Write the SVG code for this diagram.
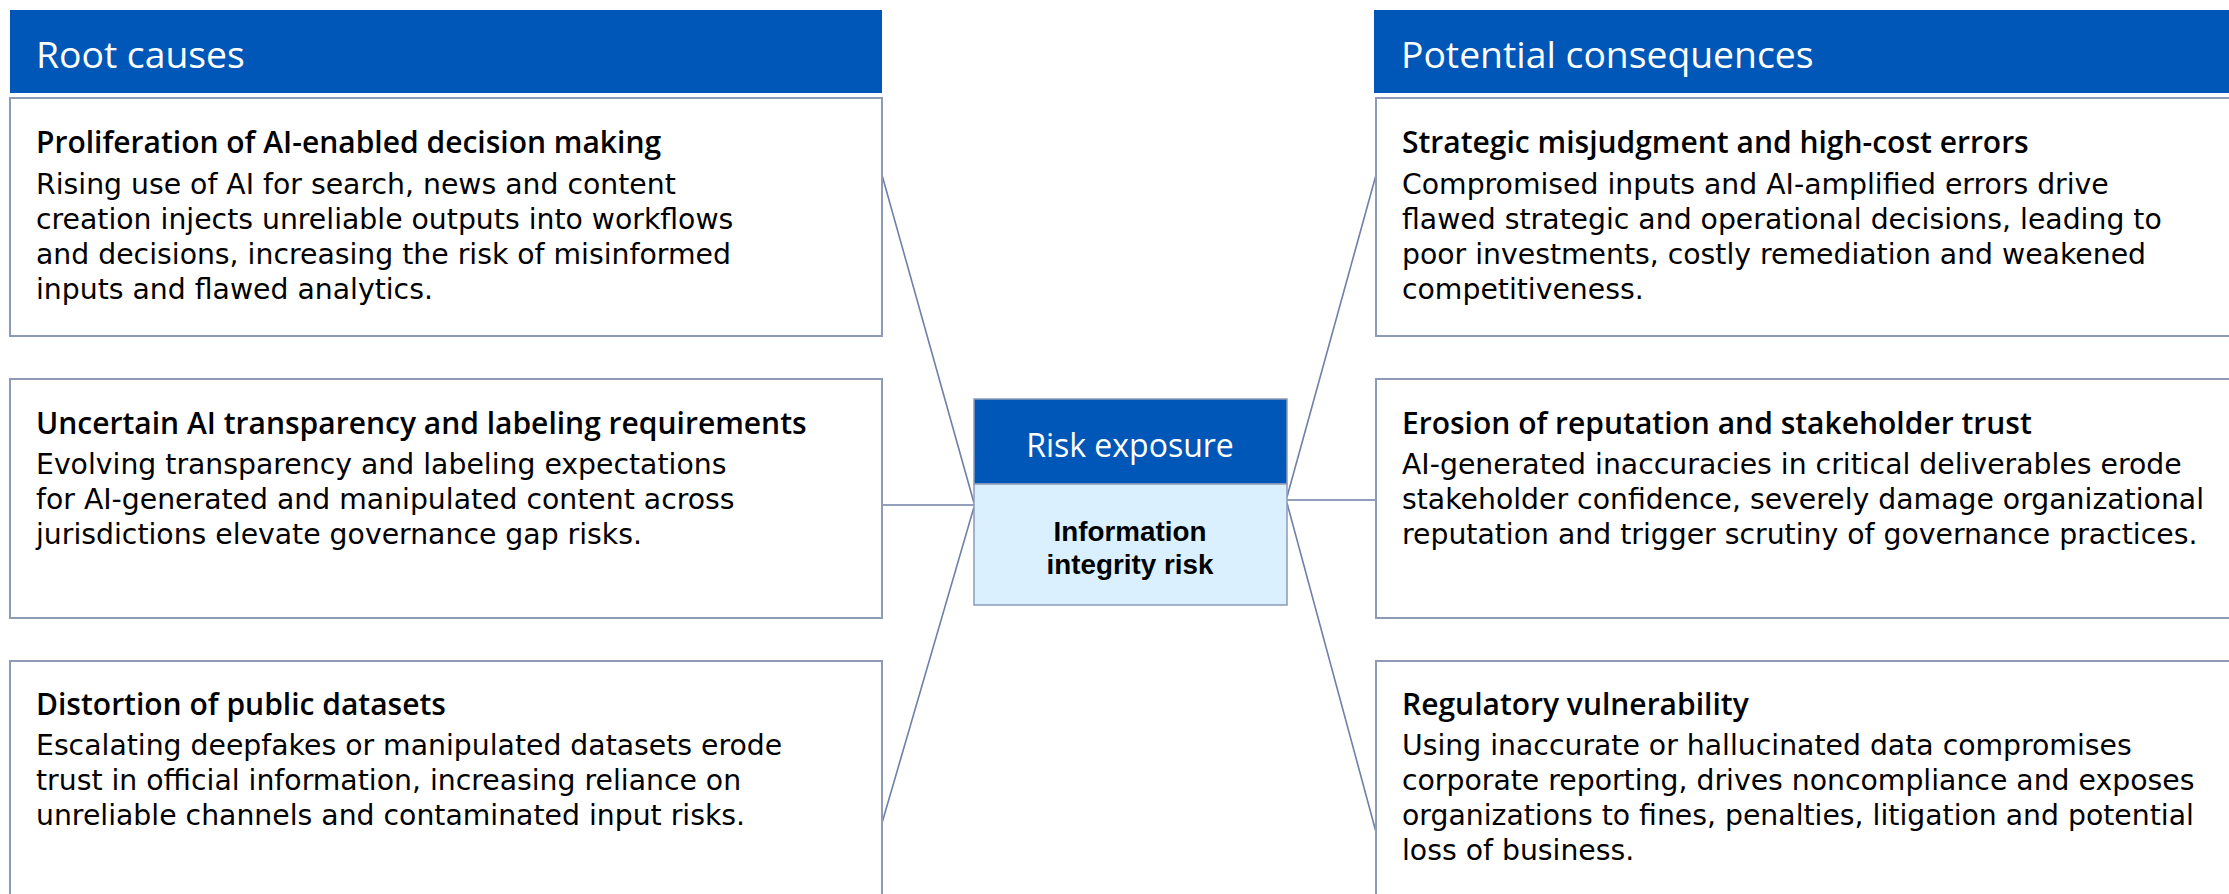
<svg xmlns="http://www.w3.org/2000/svg" width="2229" height="894" viewBox="0 0 2229 894">
<style>
.hdr{fill:#0057B7}
.box{fill:#FFFFFF;stroke:#8D9BB6;stroke-width:2}
.hdrt{font-family:"Open Sans","Liberation Sans",sans-serif;font-size:37.3px;font-weight:500;fill:#FFFFFF}
.ttl{font-family:"Open Sans","Liberation Sans",sans-serif;font-size:30px;font-weight:600;fill:#000000}
.bd{font-family:"DejaVu Sans","Liberation Sans",sans-serif;font-size:28.3px;fill:#000000}
.conn{stroke:#6F7FA6;stroke-width:1.6;fill:none}
.ctr1{font-family:"Open Sans","Liberation Sans",sans-serif;font-size:32px;fill:#FFFFFF}
.ctr2{font-family:"Liberation Sans",Arial,sans-serif;font-size:27.8px;font-weight:bold;fill:#000000}
</style>
<rect width="2229" height="894" fill="#FFFFFF"/>
<g id="connectors">
<line class="conn" x1="882" y1="175" x2="974" y2="503"/>
<line class="conn" x1="882" y1="505" x2="974" y2="505"/>
<line class="conn" x1="882" y1="823" x2="974" y2="507"/>
<line class="conn" x1="1287" y1="497" x2="1376" y2="175"/>
<line class="conn" x1="1287" y1="500" x2="1376" y2="500"/>
<line class="conn" x1="1287" y1="503" x2="1376" y2="832"/>
</g>
<g id="header-root-causes">
<rect class="hdr" x="10" y="10" width="872" height="83"/>
<text class="hdrt" x="36" y="68">Root causes</text>
</g>
<g id="header-consequences">
<rect class="hdr" x="1374" y="10" width="860" height="83"/>
<text class="hdrt" x="1401" y="68">Potential consequences</text>
</g>
<g id="cause-1">
<rect class="box" x="10" y="98" width="872" height="238"/>
<text class="ttl" x="36" y="153">Proliferation of AI-enabled decision making</text>
<text class="bd" x="36" y="194">Rising use of AI for search, news and content</text>
<text class="bd" x="36" y="229">creation injects unreliable outputs into workflows</text>
<text class="bd" x="36" y="264">and decisions, increasing the risk of misinformed</text>
<text class="bd" x="36" y="299">inputs and flawed analytics.</text>
</g>
<g id="cause-2">
<rect class="box" x="10" y="379" width="872" height="239"/>
<text class="ttl" x="36" y="434">Uncertain AI transparency and labeling requirements</text>
<text class="bd" x="36" y="474">Evolving transparency and labeling expectations</text>
<text class="bd" x="36" y="509">for AI-generated and manipulated content across</text>
<text class="bd" x="36" y="544">jurisdictions elevate governance gap risks.</text>
</g>
<g id="cause-3">
<rect class="box" x="10" y="661" width="872" height="260"/>
<text class="ttl" x="36" y="715">Distortion of public datasets</text>
<text class="bd" x="36" y="755">Escalating deepfakes or manipulated datasets erode</text>
<text class="bd" x="36" y="790">trust in official information, increasing reliance on</text>
<text class="bd" x="36" y="825">unreliable channels and contaminated input risks.</text>
</g>
<g id="risk-exposure">
<rect x="974" y="399" width="313" height="85" fill="#0057B7" stroke="#8D9BB6" stroke-width="1.5"/>
<rect x="974" y="484" width="313" height="121" fill="#DAF0FE" stroke="#8D9BB6" stroke-width="1.5"/>
<text class="ctr1" x="1130" y="457" text-anchor="middle">Risk exposure</text>
<text class="ctr2" x="1130" y="541" text-anchor="middle">Information</text>
<text class="ctr2" x="1130" y="574" text-anchor="middle">integrity risk</text>
</g>
<g id="consequence-1">
<rect class="box" x="1376" y="98" width="870" height="238"/>
<text class="ttl" x="1402" y="153">Strategic misjudgment and high-cost errors</text>
<text class="bd" x="1402" y="194">Compromised inputs and AI-amplified errors drive</text>
<text class="bd" x="1402" y="229">flawed strategic and operational decisions, leading to</text>
<text class="bd" x="1402" y="264">poor investments, costly remediation and weakened</text>
<text class="bd" x="1402" y="299">competitiveness.</text>
</g>
<g id="consequence-2">
<rect class="box" x="1376" y="379" width="870" height="239"/>
<text class="ttl" x="1402" y="434">Erosion of reputation and stakeholder trust</text>
<text class="bd" x="1402" y="474">AI-generated inaccuracies in critical deliverables erode</text>
<text class="bd" x="1402" y="509">stakeholder confidence, severely damage organizational</text>
<text class="bd" x="1402" y="544">reputation and trigger scrutiny of governance practices.</text>
</g>
<g id="consequence-3">
<rect class="box" x="1376" y="661" width="870" height="260"/>
<text class="ttl" x="1402" y="715">Regulatory vulnerability</text>
<text class="bd" x="1402" y="755">Using inaccurate or hallucinated data compromises</text>
<text class="bd" x="1402" y="790">corporate reporting, drives noncompliance and exposes</text>
<text class="bd" x="1402" y="825">organizations to fines, penalties, litigation and potential</text>
<text class="bd" x="1402" y="860">loss of business.</text>
</g>
</svg>
